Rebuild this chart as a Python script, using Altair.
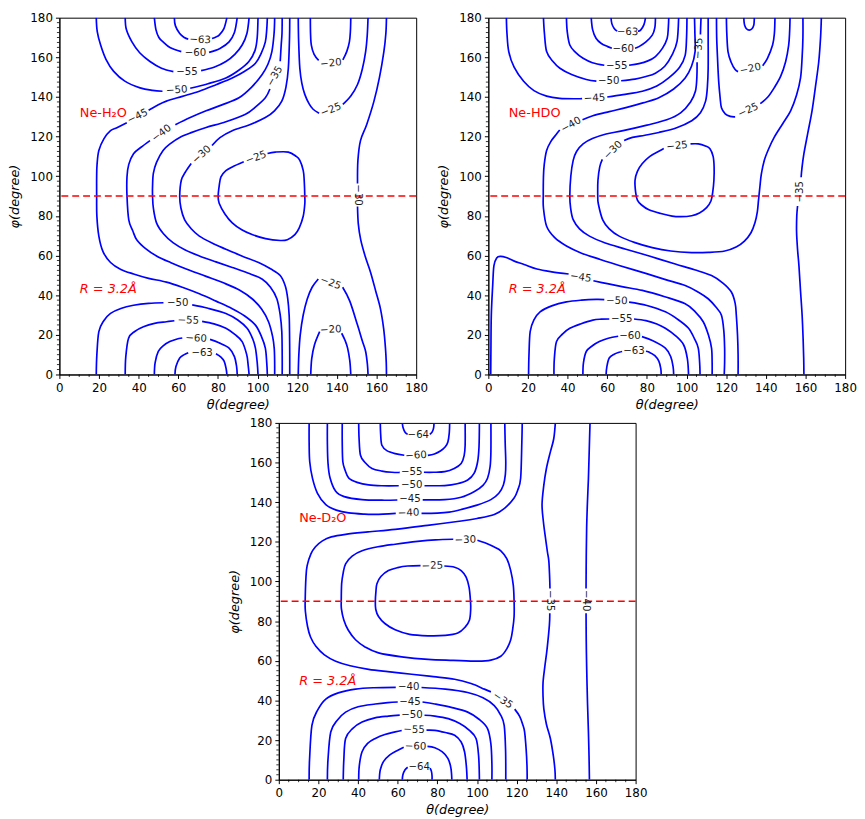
import altair as alt
import pandas as pd

N = None  # gap left in a contour where its inline label sits

major_ticks = [0, 20, 40, 60, 80, 100, 120, 140, 160, 180]
x_minor_ticks = [v for v in range(5, 180, 5) if v % 20]
y_minor_ticks = [v / 2 for v in range(5, 360, 5) if v % 40]

# ---------------- Ne-H2O ----------------
h2o_m63_top = [(58.0, 180), (58.5, 176), (60.7, 172), (63, 170), (65, 169.2), N,
               (77, 169.5), (79, 170.3), (80.6, 171.2), (83, 174.5), (84.5, 180)]
h2o_m60_top = [(47.9, 180), (48.7, 174), (50.2, 170), (52.3, 167.8), (56, 164.8), (61.5, 162.9), N,
               (75.5, 162.5), (81, 164.5), (85.6, 167.8), (88.3, 172.5), (89.7, 180)]
h2o_m55_top = [(33.2, 180), (33.8, 174), (36.6, 167.8), (40.5, 162.3), (45.7, 157.9), (51.5, 154.5),
               (57.5, 152.8), N, (71.5, 153.3), (78, 155), (84, 157.9), (88.5, 161.5), (92.2, 166.2),
               (94.6, 172), (95.7, 180)]
h2o_m50_top = [(18.6, 180), (19.1, 173), (20.8, 166.2), (23.5, 159), (27.4, 152.9), (33, 148),
               (40.7, 144.6), (47, 143.3), (52, 142.9), N, (66, 144.4), (75, 146.7), (84, 149.6),
               (90.5, 153.5), (95.6, 157.9), (98.7, 163.5), (99.8, 170), (100.2, 180)]
h2o_m45 = [(104.9, 180), (104.6, 174), (103.9, 167.8), (101.8, 162), (98.9, 157), (93.5, 153),
           (87.2, 149.6), (79, 146.2), (70.6, 142.9), (62, 140.3), (54, 137.9), (49, 135.6), (45, 133.3), N,
           (34, 127), (29, 124.5), (25.8, 123), (22.5, 119), (19.9, 113), (19.0, 106), (18.8, 99.7),
           (18.8, 90), (18.9, 80), (19.9, 69.8), (22, 62), (25.8, 56.5), (31, 53), (37.4, 50.7), (45, 48.5),
           (54, 46.6), (62, 44), (70.6, 40.7), (79, 37), (87.2, 33.2), (93.5, 29.5), (98.9, 24.9),
           (102, 19), (103.9, 13.3), (104.6, 6), (104.9, 0)]
h2o_m40 = [(108.6, 180), (108.3, 172), (107.2, 162.9), (105.2, 156.5), (102.2, 151.2), (97, 145),
           (90.6, 139.6), (82, 136), (74, 133), (66, 129.6), (58.5, 126), N, (45.7, 118), (41, 114.5),
           (37.4, 111.4), (35, 106), (34.1, 99.7), (34.1, 90), (35, 78), (37, 72.5), (39, 68), (43.5, 63.5),
           (49, 59.8), (56, 56.5), (64, 53.2), (74, 49.5), (84, 45.7), (91, 42.5), (97.2, 38.2), (102, 33),
           (105.5, 26.6), (107.6, 19), (108.4, 13), (108.6, 6), (108.6, 0)]
h2o_m35 = [(112.4, 180), (112.3, 172), (111.9, 166.2), (111.4, 158), N, (106.2, 144), (103.9, 139.6),
           (99, 135), (93.9, 131.3), (84, 127.5), (74, 124.6), (66.5, 122), (60.7, 119.6), (56, 116.5),
           (52.3, 113), (49, 107), (47.4, 101.4), (47, 95), (47, 90), (47.4, 84), (49, 76.5), (52.5, 71),
           (57.3, 66.5), (63.5, 62.8), (70.6, 59.8), (79, 56.8), (87.2, 54), (95, 51.2), (102.2, 48.2),
           (106.5, 44), (109.7, 38.2), (111.4, 30), (112.2, 21.6), (112.4, 10), (112.4, 0)]
h2o_m30 = [(116.2, 180), (116.1, 170), (115.5, 154.5), (114.3, 145), (112.2, 137.9), (108.5, 133),
           (103.9, 129.6), (96, 126), (87.2, 123), (81, 119.5), (77, 115.5), N, (66.5, 106.4), (63.5, 102),
           (61.5, 98), (60.7, 90), (61.3, 84), (63.2, 78), (66.5, 73.5), (70.6, 69.8), (77, 66.3), (84, 63.2),
           (92, 59.8), (100.5, 56.5), (106.5, 53.3), (111.4, 49.9), (114, 44.5), (115.2, 38.2), (115.9, 30),
           (116.1, 21.6), (116.2, 10), (116.2, 0)]
h2o_m25_loop = [(105, 111.5), (108.9, 112.2), (115.5, 112.2), (119.5, 110), (121.3, 108), (123, 103),
                (123.5, 98), (123.8, 90), (123.8, 86), (123, 79.8), (121, 74), (118.8, 70.6), (115, 68),
                (111.4, 67.6), (104, 68.5), (97.2, 70.6), (92, 73), (87.2, 76.5), (83.5, 81), (80.6, 86.4),
                (80.1, 90), (80.6, 95), (81.5, 99.7), (84, 102.8), (87.2, 104.7), (93, 107.3)]
h2o_m25_top = [(120.5, 180), (120.7, 168), (121.3, 154.5), (122.3, 147), (123.8, 141.3), (126, 136.5),
               (128, 133.8), (131, 131.8), N, (143, 136.3), (147, 140.5), (150.4, 146.3), (152.8, 154),
               (154.5, 162.9), (155.3, 171), (155.7, 180)]
h2o_m20_top = [(126.6, 180), (126.7, 172), (127.1, 166.2), (128.5, 161.5), (130.8, 158.5), N,
               (143, 158.7), (145, 163), (146.3, 167.8), (146.8, 173), (147, 180)]
h2o_m30_right = [(165, 180), (164.7, 172), (163.7, 162.9), (161.5, 150), (158.7, 137.9), (155, 126),
                 (151.9, 118), (150.6, 108), (150.4, 96.4), N, (150.4, 84.7), (150.8, 76), (152, 68),
                 (154.3, 59.5), (157, 51.5), (159.6, 42), (162, 33), (163.6, 23), (164.5, 13.3),
                 (164.9, 6), (165, 0)]
h2o_m25_bot = [(120.5, 0), (120.8, 10), (121.5, 20), (123, 30), (125, 38), (127.5, 44), (130.6, 48.2), N,
               (142.9, 44), (146.5, 37), (150.4, 24.9), (152.8, 17), (154.5, 11.6), (155.4, 5), (155.7, 0)]
h2o_m20_bot = [(126.8, 0), (127.3, 8), (128.7, 15), (131.3, 21.6), N, (142.4, 20.8), (144.2, 17),
               (145.4, 13.3), (146.5, 7), (147, 0)]
h2o_m50_bot = [(18.6, 0), (18.9, 10), (19.9, 21.6), (22.3, 27), (25.8, 30.8), (31, 33.3), (37.4, 34.9),
               (45, 35.9), (52.5, 36.2), N, (67, 35.1), (75, 33.4), (84, 30.8), (90, 27.5), (94.7, 23.3),
               (97.5, 18), (98.9, 13.3), (99.8, 6), (100.2, 0)]
h2o_m55_bot = [(33.2, 0), (33.5, 9), (34.9, 18.3), (38, 21.7), (42.4, 24.1), (48, 25.8), (54, 26.6),
               (58, 27.1), N, (72, 26.8), (78, 25.5), (84, 23.3), (88.5, 20.2), (92.2, 16.6), (94.5, 10),
               (95.2, 5), (95.7, 0)]
h2o_m60_bot = [(47.9, 0), (48.3, 6), (49.9, 11.6), (52.5, 14.6), (55.7, 16.6), (59, 17.8), (62, 18.4), N,
               (76, 17.7), (80.5, 16), (85.6, 13.3), (88.3, 9), (89.4, 4), (89.7, 0)]
h2o_m63_bot = [(58.3, 0), (58.8, 4), (60.7, 8.3), (63, 10), (65, 11), N, (79, 10.5), (81.5, 8.8),
               (83.1, 6.7), (84.1, 3), (84.5, 0)]

h2o_contours = [h2o_m63_top, h2o_m60_top, h2o_m55_top, h2o_m50_top, h2o_m45, h2o_m40, h2o_m35, h2o_m30,
                h2o_m25_loop, h2o_m25_top, h2o_m20_top, h2o_m30_right, h2o_m25_bot, h2o_m20_bot,
                h2o_m50_bot, h2o_m55_bot, h2o_m60_bot, h2o_m63_bot]
h2o_labels = [("−63", 71, 168.8, 3), ("−60", 68.6, 162.3, 0), ("−55", 64.4, 152.8, 0),
              ("−50", 59.2, 143.5, 356), ("−45", 39.5, 130.2, 334), ("−40", 51.5, 121.7, 323),
              ("−35", 108.7, 150.5, 300), ("−30", 71.8, 110.9, 318), ("−25", 99.2, 109.4, 340),
              ("−25", 137, 133.5, 338), ("−20", 137, 157, 355), ("−30", 150.4, 90.5, 90),
              ("−50", 59.7, 36.1, 0), ("−55", 65, 27.3, 2), ("−60", 69, 18.2, 3), ("−63", 72, 11, 0),
              ("−25", 136.8, 46.2, 20), ("−20", 136.9, 22.6, 357)]
h2o_tags = [("Ne-H₂O", 10.3, 132, "normal"), ("R = 3.2Å", 10.3, 42.9, "italic")]

# ---------------- Ne-HDO ----------------
hdo_m63_top = [(61.9, 180), (62.3, 177), (63.5, 174.5), (65, 173.2), N, (75.5, 173.2), (76.8, 173.7),
               (78.5, 176.5), (79.3, 180)]
hdo_m60_top = [(51.9, 180), (52.6, 174), (54.4, 169.5), (57, 167), (60.2, 165.4), (62.3, 164.6), N,
               (74, 164.6), (76, 165.4), (79.5, 167.8), (82.7, 171.2), (84, 175), (84.3, 180)]
hdo_m55_top = [(39.4, 180), (39.8, 173), (41.1, 166.2), (44, 162.5), (47.8, 159.5), (52.5, 157.3),
               (58.5, 156), N, (71, 156), (76, 156.8), (80.5, 158.2), (84.3, 160.4), (87.8, 164.5),
               (90.2, 169.5), (90.8, 175), (91, 180)]
hdo_m50_top = [(27.8, 180), (28.3, 172), (29.4, 162.9), (32.5, 158), (36.1, 154.5), (42, 151.3),
               (49.4, 148.8), (54.5, 148), N, (67, 148.2), (74, 149), (79.5, 150.3), (84.3, 152),
               (89, 155.5), (92.7, 161.2), (95.2, 168), (96, 180)]
hdo_m45_top = [(9.1, 180), (9.4, 172), (10.3, 162.9), (13, 155), (17.8, 147.9), (23, 143.2),
               (29.4, 140.4), (36, 139.3), (44.4, 139.1), (47.3, 139.2), N, (60, 140), (68, 141.2),
               (77.7, 142.9), (85, 145.5), (91, 149.6), (96.5, 155), (99.3, 161), (100, 170), (100.2, 180)]
hdo_m40 = [(104, 180), (104.2, 172), (104.3, 162.9), (102.5, 155.5), (99.3, 149.6), (93.5, 144),
           (86, 139.6), (78, 137), (69.4, 134.6), (61, 132.6), (52.7, 130.5), (47.5, 128.5), N,
           (36, 123.3), (34.4, 121.3), (31.5, 117.5), (29.4, 113), (28.2, 106), (27.8, 99.7), (27.7, 90),
           (27.8, 84), (29.4, 74.8), (33.5, 69), (39.4, 64.8), (47, 61.2), (56, 58.2), (66, 55),
           (77.7, 51.5), (89, 48), (99.3, 44.9), (106, 41.5), (110.9, 38.2), (114.8, 34), (117.6, 29.9),
           (118.8, 22), (119.2, 13.3), (119.2, 6), (119, 0)]
hdo_m35 = [(107.3, 180), (107.1, 175), (107, 171.5), N, (105.3, 157.5), (105.2, 150), (104.5, 143),
           (102, 137.5), (97, 132), (90, 128.5), (80, 125.8), (68, 123), (59.4, 121.3), (52.5, 119),
           (47.8, 116.3), (44.5, 112.5), (42.8, 108), (41.6, 100), (41.1, 90), (41.5, 84), (42.8, 78.1),
           (46, 73.5), (51, 69.8), (59, 66.3), (69.4, 63.2), (82, 59.5), (94.3, 55.7), (104, 52.8),
           (112.6, 49.9), (118.5, 46), (122.6, 41.6), (124.5, 36), (125.1, 29.9), (125.7, 20), (126, 10),
           (126, 0)]
hdo_m30 = [(110.9, 180), (110.9, 170), (110.9, 154.5), (110.5, 145), (109.6, 137.9), (107, 132),
           (102.6, 128), (95, 124.5), (86, 122.1), (79, 120.7), (72.7, 119.6), (68.5, 118), N,
           (57.5, 108.5), (56.2, 104.7), (55.3, 98), (55.2, 90), (55.5, 86), (57.7, 78), (61, 73.5),
           (66, 69.8), (74, 66.5), (82.7, 64), (92, 62.3), (102.6, 61.5), (111, 61.6), (119.3, 62.3),
           (125, 64.3), (129.2, 67.3), (132.5, 71.5), (134.5, 76.5), (135.7, 82), (136.3, 88), (137, 94.7),
           (137.7, 101), (139.2, 108), (141.5, 114), (144.2, 119.6), (148.5, 126.5), (152.5, 133),
           (155.5, 141), (157.5, 149.6), (158.3, 160), (158.7, 170), (158.7, 180)]
hdo_m25_loop = [(102, 116.3), (105.9, 116.3), (109.5, 115.3), (111.8, 113.9), (113.4, 110), (113.9, 104.7),
                (113.8, 98), (113.2, 92), (112.3, 87.5), (110.1, 84.2), (106.5, 81.5), (102.6, 80.1),
                (97, 79.6), (92.7, 79.9), (87, 81.2), (81, 83.1), (77.3, 85.5), (75.2, 88), (74.3, 92),
                (74, 98), (75.2, 102.5), (77.7, 106.4), (81.5, 110), (86, 112.6), (88.5, 114)]
hdo_m25_top = [(115.1, 180), (115.2, 170), (115.6, 160), (116.2, 148), (116.9, 140), (117.6, 134.5),
               (119.5, 131.5), (122, 130.2), (124.5, 130), N, (137.2, 136.6), (141, 140), (144.2, 144.6),
               (147.5, 150.5), (150, 157.9), (151.5, 166), (152, 173), (152.2, 180)]
hdo_m20_top = [(120.1, 180), (120.3, 172), (120.9, 162.9), (122.5, 157.5), (124.5, 153.8), (126, 152.8), N,
               (138.4, 155.8), (140.8, 159.5), (143.4, 166.2), (144.3, 172), (144.6, 180)]
hdo_small_top = [(128.9, 180), (129, 178), (129.3, 176.2), (130.2, 174.4), (131.6, 173.7), (133, 174.4),
                 (133.9, 176.2), (134.1, 178), (134.2, 180)]
hdo_m35_right = [(168, 180), (167.6, 170), (166.7, 157.9), (165, 145), (163.3, 133), (161.2, 122),
                 (159.2, 111.4), (158.2, 104), (157.8, 99.5), N, (156, 85), (155.6, 80), (155.5, 72),
                 (156, 63), (156.7, 54.8), (157.5, 42), (158.3, 29.9), (158.8, 18), (159.1, 8), (159.2, 0)]
hdo_m45_bot = [(1.2, 0), (1.3, 12), (1.5, 30), (2.2, 45), (2.8, 54.8), (4.2, 58.8), (6.1, 59.6), (9, 59),
               (12.8, 57.3), (18, 55.5), (24.5, 53.2), (32, 51.8), (40.5, 50.7), N, (53, 47.3), (60, 45.8),
               (68, 44.2), (77.7, 42.4), (89, 39.2), (99.3, 35.7), (104.5, 31.5), (108.4, 26.6), (111, 20),
               (112.6, 13.3), (112.9, 6), (112.9, 0)]
hdo_m50_bot = [(20.3, 0), (20.5, 10), (21.1, 21.6), (23, 27.5), (26.1, 31.6), (32, 34.6), (39.4, 36.6),
               (47, 37.5), (54.4, 37.9), (58.5, 37.8), N, (71, 36.5), (80, 34.8), (89.3, 31.6), (96, 27.5),
               (101, 23.3), (104, 18), (105.9, 13.3), (106.6, 6), (106.8, 0)]
hdo_m55_bot = [(33.1, 0), (33.3, 8), (34.4, 16.6), (37.5, 20.5), (41.1, 23.3), (46.5, 25.5), (52.7, 27.4),
               (57, 27.9), (61, 28), N, (73.5, 28), (79.5, 27.2), (85, 25.5), (89.3, 23.3), (94.5, 19.5),
               (98.5, 15), (100.4, 8), (101, 0)]
hdo_m60_bot = [(47.7, 0), (48, 6), (49.4, 11.6), (52.5, 14.5), (56, 16.6), (60.5, 18.3), (65.5, 19.3), N,
               (77.5, 19.1), (83, 17), (89.3, 13.3), (92, 9), (93.2, 4), (93.5, 0)]
hdo_m63_bot = [(59.4, 0), (59.8, 4), (61, 8.3), (63.5, 10.2), (66, 11.2), (67.5, 11.6), N, (79.5, 11.7),
               (81, 11.3), (84, 9.5), (86, 6.7), (87, 3), (87.2, 0)]

hdo_contours = [hdo_m63_top, hdo_m60_top, hdo_m55_top, hdo_m50_top, hdo_m45_top, hdo_m40, hdo_m35, hdo_m30,
                hdo_m25_loop, hdo_m25_top, hdo_m20_top, hdo_small_top, hdo_m35_right, hdo_m45_bot,
                hdo_m50_bot, hdo_m55_bot, hdo_m60_bot, hdo_m63_bot]
hdo_labels = [("−63", 70.2, 172.8, 2), ("−60", 68.1, 164.3, 0), ("−55", 64.8, 155.8, 0),
              ("−50", 60.7, 147.9, 0), ("−45", 53.6, 139.4, 357), ("−40", 41.7, 125.9, 330),
              ("−35", 106.1, 164.5, 274), ("−30", 62.9, 113.2, 315), ("−25", 95.2, 115.3, 354),
              ("−25", 131.1, 133.3, 335), ("−20", 132.2, 154.2, 348), ("−35", 157, 92.2, 270),
              ("−45", 46.6, 49, 8), ("−50", 64.8, 37.1, 2), ("−55", 67.3, 28, 0), ("−60", 71.5, 19.2, 0),
              ("−63", 73.5, 11.7, 0)]
hdo_tags = [("Ne-HDO", 10.3, 132, "normal"), ("R = 3.2Å", 10.3, 42.9, "italic")]

# ---------------- Ne-D2O ----------------
d2o_m64_top = [(62.3, 180), (62.7, 177.5), (63.7, 175.3), (65, 174.2), N, (76.2, 174.2), (77.4, 175.5),
               (78.1, 177.5), (78.3, 180)]
d2o_m60_top = [(51.2, 180), (51.4, 174), (52, 168.7), (54.5, 166), (58.7, 164.5), (63.3, 163.7), N,
               (75.2, 163.6), (78.5, 164.3), (81.5, 165.8), (84, 168), (85.3, 170.4), (86, 175), (86.2, 180)]
d2o_m55_top = [(40.3, 180), (40.5, 172), (41.2, 163.7), (43.5, 160), (47, 157), (52, 155.7), (57, 155.1),
               (61, 155), N, (73.2, 155.1), (78, 155.1), (83.7, 155.4), (88.5, 157), (92, 159.5),
               (93.5, 163.5), (94, 168.7), (94, 180)]
d2o_m50_top = [(32, 180), (32, 170), (32.3, 160.4), (33.5, 156), (35.3, 152.1), (39.5, 150), (45.3, 148.7),
               (52, 148.3), (60.5, 148.3), N, (73.5, 148.3), (83.7, 148.4), (90, 149.3), (95.3, 151.2),
               (98.5, 154.5), (100.3, 160.4), (101, 168), (101.2, 180)]
d2o_m45_top = [(24.5, 180), (24.5, 170), (24.8, 160), (25.8, 152.5), (28.7, 145.5), (33, 142.8),
               (42, 141.3), (52, 141), (59.8, 141.1), N, (72.6, 141.2), (83.7, 141.3), (92, 142.5),
               (98.7, 145.4), (103, 148.5), (105.3, 152.1), (106.6, 158), (107, 165.4), (107, 180)]
d2o_m40_top = [(15.3, 180), (15.3, 170), (15.6, 160.4), (17, 152), (19.5, 144.5), (23.7, 138.8),
               (29, 136), (35.3, 134.6), (43, 134), (48.7, 133.9), (59, 134.4), N, (72, 134.4), (80, 134.5),
               (86, 135), (92, 136.3), (100, 138.5), (107, 141.3), (111, 144.5), (113.3, 148.7),
               (114.3, 154), (114.5, 160.4), (114.2, 170), (114, 180)]
d2o_m35 = [(122.8, 180), (122.6, 170), (122, 152.1), (120.5, 146), (118.7, 142.1), (114, 137),
           (108.7, 133.8), (100, 131.8), (92, 130.5), (75, 128.3), (58.7, 126.3), (45, 125), (33.7, 123.8),
           (26.5, 122.5), (22, 120.5), (18.5, 117.5), (16.2, 113.9), (14.3, 108), (13.7, 102.2),
           (13.3, 90.2), (13.4, 85), (14.5, 77.3), (16, 72), (18.7, 67.3), (23, 63), (28.7, 59.8), (36, 57.5),
           (45.3, 55.7), (55, 54.5), (67, 53.2), (78, 52), (88.7, 50.7), (97, 48.5), (103.7, 45.7),
           (107, 44.3), N, (119, 35.6), (121.5, 32), (123, 28), (124, 24.1), (124.8, 15), (125.2, 7),
           (125.3, 0)]
d2o_m30_loop = [(100.2, 120.8), (104, 119.5), (108.5, 117.5), (112, 115.5), (115, 111.5), (117, 105.5),
                (118.3, 98), (118.7, 90), (118.7, 82.3), (118, 76), (117, 70.6), (115, 66), (112, 62.3),
                (107, 60.3), (100.3, 59.8), (88, 60.2), (75.3, 60.7), (62, 62), (50.3, 64), (43.5, 67),
                (38.7, 70.6), (35, 75.5), (32.8, 80.6), (31.6, 86), (31.5, 90), (31.7, 98.9), (32.5, 104.5),
                (33.7, 108.9), (37, 112.8), (42, 115.5), (50, 117.5), (58.7, 118.8), (70, 120.2), (79, 121),
                (88, 121.3)]
d2o_m25_loop = [(83.5, 107.8), (88.7, 107.2), (92, 105.5), (94.5, 102.2), (96, 97), (96.7, 90), (96.8, 86),
                (96.2, 80.6), (94, 77), (90.3, 74), (84, 72.8), (75.3, 72.6), (66, 73.3), (58.7, 75.6),
                (53.5, 78.8), (50.3, 82.3), (48.9, 86), (48.7, 90), (49, 95), (49.5, 98.9), (51.5, 102.5),
                (55.3, 105.5), (60, 107), (65, 107.8), (71.5, 108)]
d2o_m35_right = [(139.5, 180), (138.7, 172), (137, 165.4), (135, 157), (133.7, 148.6), (132.8, 138.8),
                 (133.5, 130), (134.5, 122.2), (135.5, 115), (136.2, 110.5), (136.6, 103), (136.8, 96.5), N,
                 (136.7, 84), (136.5, 78), (135.3, 65.6), (134.2, 57), (133.3, 49), (133.3, 42),
                 (133.7, 35.7), (135, 28), (137, 20.8), (138.5, 12), (139.3, 5), (139.5, 0)]
d2o_m40_right = [(157, 180), (156.6, 166), (156.2, 152), (155.7, 140), (155.3, 127), (155.1, 112),
                 (155, 96.5), N, (155, 84), (155.1, 70), (155.3, 57.3), (155.7, 40), (156.2, 24.1),
                 (156.5, 12), (156.7, 0)]
d2o_m40_bot = [(15.3, 0), (15.5, 10), (16.7, 27.4), (19.5, 35), (23.7, 40.7), (30, 43.8), (38.7, 45.7),
               (48, 46.4), (59, 46.6), N, (72, 46.5), (84, 45.7), (95.3, 44), (103, 41.3), (108.7, 37.4),
               (112, 32.5), (113.7, 27.4), (114.4, 15), (114.5, 0)]
d2o_m45_bot = [(24.5, 0), (24.8, 10), (26.2, 24.1), (29.5, 30), (33.7, 34.1), (40, 36.8), (48.7, 38.2),
               (55, 38.9), (60, 39.2), N, (72.5, 39.2), (78.7, 38.2), (87, 36.5), (95.3, 34.1), (101, 30.5),
               (105.3, 25.8), (107, 18), (107.5, 8), (107.5, 0)]
d2o_m50_bot = [(32.5, 0), (32.8, 10), (33.7, 20.8), (37.2, 25.8), (42, 29.1), (48.5, 31.2), (55.3, 32.1),
               (61, 32.6), N, (73.5, 32.5), (78.7, 32.1), (85.5, 30.8), (91.3, 28.3), (96, 25), (99.5, 20.8),
               (100.8, 12), (101.2, 0)]
d2o_m55_bot = [(40.3, 0), (40.6, 7), (42, 14.1), (44.8, 18.3), (48.7, 20.8), (53.5, 22.8), (58.7, 24.1),
               (62, 24.8), N, (74.5, 25), (78.7, 24.9), (84, 23.8), (88.7, 22.4), (92, 19), (93.7, 14.1),
               (94.6, 7), (95, 0)]
d2o_m60_bot = [(50.7, 0), (51.2, 5), (52.8, 9.1), (56, 12.5), (60.3, 15), (63, 16.4), N, (75, 16.8),
               (78.7, 16.1), (82.5, 14), (85.3, 10.8), (86.8, 6), (87.3, 0)]
d2o_m64_bot = [(62.3, 0), (62.6, 2.5), (63.7, 5), (65, 6.3), N, (76.3, 5.8), (77, 4.2), (77.3, 2),
               (77.3, 0)]

d2o_contours = [d2o_m64_top, d2o_m60_top, d2o_m55_top, d2o_m50_top, d2o_m45_top, d2o_m40_top, d2o_m35,
                d2o_m30_loop, d2o_m25_loop, d2o_m35_right, d2o_m40_right, d2o_m40_bot, d2o_m45_bot,
                d2o_m50_bot, d2o_m55_bot, d2o_m60_bot, d2o_m64_bot]
d2o_labels = [("−64", 70.4, 174, 0), ("−60", 69.2, 163.6, 357), ("−55", 67, 155.3, 0),
              ("−50", 67, 148.5, 0), ("−45", 66.2, 141.4, 0), ("−40", 65.5, 134.6, 358),
              ("−30", 94.1, 121, 358), ("−25", 77.5, 107.9, 358), ("−35", 136.7, 90.3, 90),
              ("−40", 155, 90.3, 90), ("−40", 65.5, 46.5, 0), ("−45", 66.2, 39.2, 0), ("−50", 67.2, 32.6, 0),
              ("−55", 68.2, 25.2, 2), ("−60", 69, 16.8, 2), ("−64", 70.8, 6.3, 0), ("−35", 113, 40, 34)]
d2o_tags = [("Ne-D₂O", 10.3, 132, "normal"), ("R = 3.2Å", 10.3, 49.9, "italic")]

W = 361
H = 361
FONT = "DejaVu Sans"


def split(points):
    segs, cur = [], []
    for p in points:
        if p is None:
            segs.append(cur)
            cur = []
        else:
            cur.append(p)
    segs.append(cur)
    return segs


def line_frame(contours):
    rows = []
    k = 0
    for c in contours:
        for seg in split(c):
            for i, (t, p) in enumerate(seg):
                rows.append({"theta": t, "phi": p, "seg": k, "i": i})
            k += 1
    return pd.DataFrame(rows)


def panel(contours, labels, tags):
    xs = alt.Scale(domain=[0, 180], nice=False)
    ys = alt.Scale(domain=[0, 180], nice=False)
    # the same axis objects go on every layer so that Vega-Lite merges them into one
    xa = alt.Axis(values=major_ticks, title="θ(degree)", titleFontStyle="italic", labelFlush=False)
    ya = alt.Axis(values=major_ticks, title="φ(degree)", titleFontStyle="italic", labelFlush=False)
    X = alt.X("theta:Q", scale=xs, axis=xa)
    Y = alt.Y("phi:Q", scale=ys, axis=ya)

    lines = alt.Chart(line_frame(contours)).mark_line(
        color="#0000ff", strokeWidth=1.7, interpolate="cardinal", clip=True
    ).encode(x=X, y=Y, detail="seg:N", order="i:Q")

    # red dashed line at phi = 90
    ref = alt.Chart(pd.DataFrame({"phi": [90]})).mark_rule(
        color="#ff0000", strokeDash=[7, 4], strokeWidth=1.5
    ).encode(y=Y)

    # minor ticks
    xminor = alt.Chart(pd.DataFrame({"theta": x_minor_ticks})).mark_rule(
        color="black", strokeWidth=0.8
    ).encode(x=X, y=alt.value(H), y2=alt.value(H + 2.5))
    yminor = alt.Chart(pd.DataFrame({"phi": y_minor_ticks})).mark_rule(
        color="black", strokeWidth=0.8
    ).encode(y=Y, x=alt.value(0), x2=alt.value(-2.5))

    lab_df = pd.DataFrame(labels, columns=["txt", "theta", "phi", "angle"])
    texts = alt.Chart(lab_df).mark_text(
        font=FONT, fontSize=10.3, color="#1a1a1a", baseline="middle", align="center"
    ).encode(x=X, y=Y, text="txt:N", angle=alt.Angle("angle:Q", scale=None))

    tag_df = pd.DataFrame(tags, columns=["txt", "theta", "phi", "style"])
    tag_plain = alt.Chart(tag_df[tag_df["style"] == "normal"]).mark_text(
        font=FONT, fontSize=13, color="#ff0000", align="left", baseline="middle"
    ).encode(x=X, y=Y, text="txt:N")
    tag_ital = alt.Chart(tag_df[tag_df["style"] == "italic"]).mark_text(
        font=FONT, fontSize=13, color="#ff0000", align="left", baseline="middle", fontStyle="italic"
    ).encode(x=X, y=Y, text="txt:N")

    return alt.layer(lines, ref, xminor, yminor, texts, tag_plain, tag_ital).properties(width=W, height=H)


p1 = panel(h2o_contours, h2o_labels, h2o_tags)
p2 = panel(hdo_contours, hdo_labels, hdo_tags)
p3 = panel(d2o_contours, d2o_labels, d2o_tags)

# empty, invisible block that pushes the third panel right under the gap of the first row
spacer = alt.Chart(pd.DataFrame({"v": [0]})).mark_point(opacity=0).encode(
    x=alt.value(0), y=alt.value(0)
).properties(width=169, height=H, view=alt.ViewConfig(stroke="transparent"))

top = alt.hconcat(p1, p2, spacing=9)
bottom = alt.hconcat(spacer, p3, spacing=0)
chart = alt.vconcat(top, bottom, spacing=4).properties(
    padding={"left": 0, "top": -2, "right": 0, "bottom": 0}
).configure_view(
    stroke="black", strokeWidth=1
).configure_axis(
    grid=False, domainColor="black", domainWidth=1, tickColor="black", tickWidth=1, tickSize=4,
    labelColor="black", titleColor="black", labelFont=FONT, titleFont=FONT,
    labelFontSize=12, titleFontSize=13, titleFontWeight="normal"
).configure_axisX(
    labelPadding=4, titlePadding=5
).configure_axisY(
    labelPadding=3, titlePadding=8
)

chart.save("out.html", embed_options={"renderer": "svg", "actions": False})
